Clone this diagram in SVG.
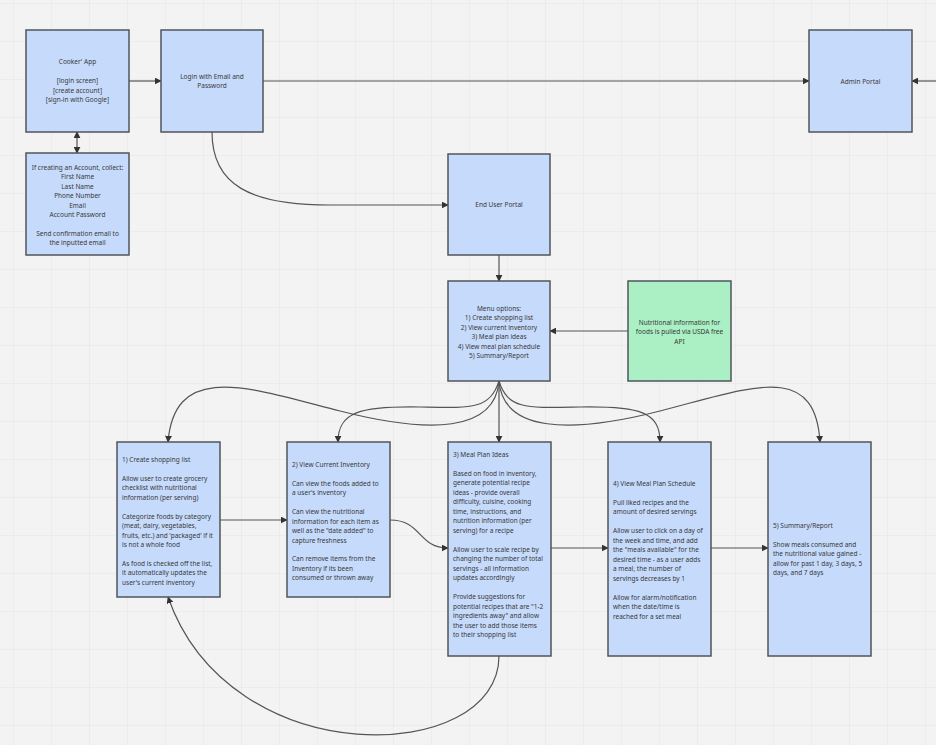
<svg xmlns="http://www.w3.org/2000/svg" width="936" height="745" viewBox="0 0 936 745">
<defs>
<pattern id="grid" x="13" y="3" width="38" height="38" patternUnits="userSpaceOnUse">
<path d="M0,0 H38 M0,0 V38" fill="none" stroke="#e5e5e5" stroke-width="1"/>
</pattern>
<marker id="arr" viewBox="0 0 10 10" refX="9" refY="5" markerWidth="7" markerHeight="7" markerUnits="userSpaceOnUse" orient="auto-start-reverse">
<path d="M0,0 L10,5 L0,10 Z" fill="#333"/>
</marker>
<style>
.n{fill:#c6dbfc;stroke:#50555c;stroke-width:1.5}
.g{fill:#aaf0c4;stroke:#50555c;stroke-width:1.5}
text{font-family:"Noto Sans","Open Sans",sans-serif;font-size:6.5px;fill:#383838}
.c{text-anchor:middle}
.e{fill:none;stroke:#555;stroke-width:1.2}
</style>
</defs>
<rect width="936" height="745" fill="#f3f3f3"/>
<rect width="936" height="745" fill="url(#grid)"/>

<g id="connectors">
<path class="e" d="M129,81 H161" marker-end="url(#arr)"/>
<path class="e" d="M263,81 H809" marker-end="url(#arr)"/>
<path class="e" d="M936,81 H912" marker-end="url(#arr)"/>
<path class="e" d="M77,132 V153" marker-start="url(#arr)" marker-end="url(#arr)"/>
<path class="e" d="M212,132 C212,185 250,205 330,205 L448,205" marker-end="url(#arr)"/>
<path class="e" d="M499,255 V281" marker-end="url(#arr)"/>
<path class="e" d="M628,331 H550" marker-end="url(#arr)"/>
<path class="e" d="M499,381 C495,432 430,434 340,411 S175,360 168,442" marker-end="url(#arr)"/>
<path class="e" d="M499,381 C490,410 470,408 420,407 C360,406 338,412 338,442" marker-end="url(#arr)"/>
<path class="e" d="M499,381 V442" marker-end="url(#arr)"/>
<path class="e" d="M499,381 C508,410 528,408 580,407 C640,406 660,412 660,442" marker-end="url(#arr)"/>
<path class="e" d="M499,381 C503,432 570,434 660,411 S815,360 820,442" marker-end="url(#arr)"/>
<path class="e" d="M220,520 H287" marker-end="url(#arr)"/>
<path class="e" d="M390,520 C422,520 418,548 448,548" marker-end="url(#arr)"/>
<path class="e" d="M551,548 H608" marker-end="url(#arr)"/>
<path class="e" d="M711,548 H768" marker-end="url(#arr)"/>
<path class="e" d="M499,656 C499,765 230,775 168,597" marker-end="url(#arr)"/>
</g>

<g id="cooker-app">
<rect class="n" x="26" y="30" width="103" height="102"/>
<text class="c" x="77.5" y="64">Cooker' App</text>
<text class="c" x="77.5" y="83">[login screen]</text>
<text class="c" x="77.5" y="92.5">[create account]</text>
<text class="c" x="77.5" y="102">[sign-in with Google]</text>
</g>

<g id="login">
<rect class="n" x="161" y="30" width="102" height="102"/>
<text class="c" x="212" y="78.5">Login with Email and</text>
<text class="c" x="212" y="88">Password</text>
</g>

<g id="admin-portal">
<rect class="n" x="809" y="30" width="103" height="102"/>
<text class="c" x="860.5" y="83.5">Admin Portal</text>
</g>

<g id="create-account">
<rect class="n" x="26" y="153" width="103" height="102"/>
<text class="c" x="77.5" y="169.5">If creating an Account, collect:</text>
<text class="c" x="77.5" y="179">First Name</text>
<text class="c" x="77.5" y="188.5">Last Name</text>
<text class="c" x="77.5" y="198">Phone Number</text>
<text class="c" x="77.5" y="207.5">Email</text>
<text class="c" x="77.5" y="217">Account Password</text>
<text class="c" x="77.5" y="235.5">Send confirmation email to</text>
<text class="c" x="77.5" y="245">the inputted email</text>
</g>

<g id="end-user-portal">
<rect class="n" x="448" y="154" width="102" height="101"/>
<text class="c" x="499" y="206.5">End User Portal</text>
</g>

<g id="menu">
<rect class="n" x="448" y="281" width="102" height="100"/>
<text class="c" x="499" y="310.5">Menu options:</text>
<text class="c" x="499" y="320">1) Create shopping list</text>
<text class="c" x="499" y="329.5">2) View current inventory</text>
<text class="c" x="499" y="339">3) Meal plan ideas</text>
<text class="c" x="499" y="348.5">4) View meal plan schedule</text>
<text class="c" x="499" y="358">5) Summary/Report</text>
</g>

<g id="usda-api">
<rect class="g" x="628" y="281" width="103" height="100"/>
<text class="c" x="679.5" y="324.5">Nutritional information for</text>
<text class="c" x="679.5" y="334">foods is pulled via USDA free</text>
<text class="c" x="679.5" y="343.5">API</text>
</g>

<g id="shopping-list">
<rect class="n" x="117" y="442" width="103" height="155"/>
<text x="122" y="461.5">1) Create shopping list</text>
<text x="122" y="480.5">Allow user to create grocery</text>
<text x="122" y="490">checklist with nutritional</text>
<text x="122" y="499.5">information (per serving)</text>
<text x="122" y="518.5">Categorize foods by category</text>
<text x="122" y="528">(meat, dairy, vegetables,</text>
<text x="122" y="537.5">fruits, etc.) and 'packaged' if it</text>
<text x="122" y="547">is not a whole food</text>
<text x="122" y="565.5">As food is checked off the list,</text>
<text x="122" y="575">it automatically updates the</text>
<text x="122" y="584.5">user's current inventory</text>
</g>

<g id="inventory">
<rect class="n" x="287" y="442" width="103" height="155"/>
<text x="292" y="466.5">2) View Current Inventory</text>
<text x="292" y="485.5">Can view the foods added to</text>
<text x="292" y="495">a user's inventory</text>
<text x="292" y="514">Can view the nutritional</text>
<text x="292" y="523.5">information for each item as</text>
<text x="292" y="533">well as the "date added" to</text>
<text x="292" y="542.5">capture freshness</text>
<text x="292" y="561">Can remove items from the</text>
<text x="292" y="570.5">Inventory if its been</text>
<text x="292" y="580">consumed or thrown away</text>
</g>

<g id="meal-plan-ideas">
<rect class="n" x="448" y="442" width="103" height="214"/>
<text x="453" y="456.5">3) Meal Plan Ideas</text>
<text x="453" y="475.5">Based on food in inventory,</text>
<text x="453" y="485">generate potential recipe</text>
<text x="453" y="494.5">ideas - provide overall</text>
<text x="453" y="504">difficulty, cuisine, cooking</text>
<text x="453" y="513.5">time, instructions, and</text>
<text x="453" y="523">nutrition information (per</text>
<text x="453" y="532.5">serving) for a recipe</text>
<text x="453" y="551.5">Allow user to scale recipe by</text>
<text x="453" y="561">changing the number of total</text>
<text x="453" y="570.5">servings - all information</text>
<text x="453" y="580">updates accordingly</text>
<text x="453" y="599">Provide suggestions for</text>
<text x="453" y="608.5">potential recipes that are "1-2</text>
<text x="453" y="618">ingredients away" and allow</text>
<text x="453" y="627.5">the user to add those items</text>
<text x="453" y="637">to their shopping list</text>
</g>

<g id="meal-plan-schedule">
<rect class="n" x="608" y="442" width="103" height="214"/>
<text x="613" y="485.5">4) View Meal Plan Schedule</text>
<text x="613" y="504.5">Pull liked recipes and the</text>
<text x="613" y="514">amount of desired servings</text>
<text x="613" y="533">Allow user to click on a day of</text>
<text x="613" y="542.5">the week and time, and add</text>
<text x="613" y="552">the "meals available" for the</text>
<text x="613" y="561.5">desired time - as a user adds</text>
<text x="613" y="571">a meal, the number of</text>
<text x="613" y="580.5">servings decreases by 1</text>
<text x="613" y="599.5">Allow for alarm/notification</text>
<text x="613" y="609">when the date/time is</text>
<text x="613" y="618.5">reached for a set meal</text>
</g>

<g id="summary-report">
<rect class="n" x="768" y="442" width="103" height="214"/>
<text x="773" y="527.5">5) Summary/Report</text>
<text x="773" y="546.5">Show meals consumed and</text>
<text x="773" y="556">the nutritional value gained -</text>
<text x="773" y="565.5">allow for past 1 day, 3 days, 5</text>
<text x="773" y="575">days, and 7 days</text>
</g>
</svg>
